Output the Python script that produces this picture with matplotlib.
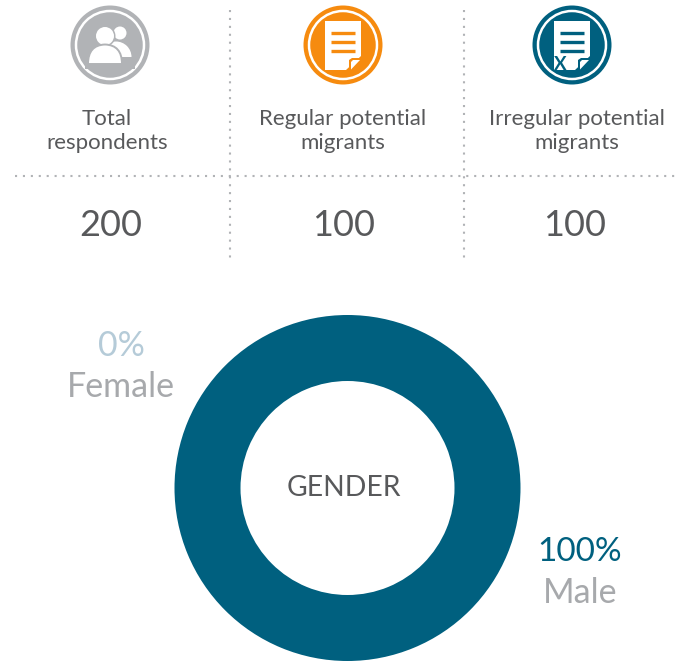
import matplotlib
matplotlib.use("Agg")
import matplotlib.pyplot as plt
from matplotlib.patches import Circle, Polygon, Wedge, Rectangle, PathPatch
from matplotlib.path import Path

plt.rcParams['font.family'] = ['Lato', 'DejaVu Sans']

# data
column_labels = ["Total\nrespondents", "Regular potential\nmigrants", "Irregular potential\nmigrants"]
column_counts = [200, 100, 100]
gender_labels = ["Male", "Female"]
gender_shares = [100, 0]

TEAL = '#00607f'
ORANGE = '#f68b0f'
GREY = '#b1b3b6'
TXT = '#58595b'

fig = plt.figure(figsize=(6.81, 6.62), dpi=100)
ax = fig.add_axes([0, 0, 1, 1])

# donut
ax.pie(gender_shares, colors=[TEAL, '#b5cbd8'], center=(347.5, 488), radius=173,
       startangle=90, counterclock=False, frame=True,
       wedgeprops=dict(width=66, linewidth=0))

ax.set_xlim(0, 681)
ax.set_ylim(662, 0)
ax.axis('off')

# dotted separators
dots = (0, (1.0, 2.8))
for x in (229.5, 463.5):
    ax.plot([x, x], [10, 258], ls=dots, lw=1.5, color=GREY, dash_capstyle='butt')
ax.plot([15, 678], [176, 176], ls=dots, lw=1.5, color=GREY, dash_capstyle='butt')

# column text
xc_label = [107, 343, 577]
xc_num = [110.5, 343.5, 575]
for x, lab in zip(xc_label, column_labels):
    ax.text(x, 131, lab, ha='center', va='center', fontsize=16, color=TXT, linespacing=1.2)
for x, v in zip(xc_num, column_counts):
    ax.text(x, 225, str(v), ha='center', va='center', fontsize=26, color=TXT)


def badge(cx, cy, color):
    ax.add_patch(Circle((cx, cy), 39.5, fc=color, ec='none'))
    ax.add_patch(Circle((cx, cy), 34, fc='none', ec='white', lw=1.8))


def document(cx, color):
    x0, x1, y0, y1 = cx - 18, cx + 18, 21, 70
    ax.add_patch(Polygon([(x0, y0), (x1, y0), (x1, y1 - 14), (x1 - 15, y1), (x0, y1)],
                         closed=True, fc='white', ec='none', zorder=3))
    for y in (33, 41.5, 50.5):
        ax.plot([x0 + 6, x1 - 6], [y, y], color=color, lw=2.4, solid_capstyle='butt', zorder=4)
    ax.add_patch(Polygon([(x1 - 12, y1 + 0.5), (x1 - 12, y1 - 10), (x1 - 9, y1 - 12),
                          (x1 + 1, y1 - 12), (x1 - 3, y1 - 1), (x1 - 10, y1 + 0.5)],
                         closed=True, fc=color, ec='none', zorder=4))
    ax.add_patch(Polygon([(x1 - 10, y1 - 0.5), (x1 - 10, y1 - 8), (x1 - 8, y1 - 10),
                          (x1 - 1, y1 - 10)],
                         closed=True, fc='white', ec='none', zorder=5))


# grey badge: people
badge(110, 45, GREY)
ax.add_patch(Circle((120, 33), 6.5, fc='white', ec='none'))
ax.add_patch(Wedge((116, 57), 15.5, 180, 360, fc='white', ec='none'))
ax.add_patch(Circle((105, 36), 10.5, fc=GREY, ec='none'))
ax.add_patch(Circle((105, 36), 9, fc='white', ec='none'))
ax.add_patch(PathPatch(Path([(88, 64), (88, 45), (105, 44.5), (122, 45), (122, 64), (88, 64)],
                            [Path.MOVETO, Path.CURVE3, Path.CURVE3, Path.CURVE3, Path.CURVE3, Path.CLOSEPOLY]),
                       fc='white', ec=GREY, lw=1.4))
ax.add_patch(Rectangle((85, 64), 50, 5, fc=GREY, ec='none'))

# orange badge
badge(343, 45, ORANGE)
document(343, ORANGE)

# teal badge
badge(572, 45, TEAL)
document(572, TEAL)
ax.text(560, 64, "X", ha='center', va='center', fontsize=13.5, color=TEAL,
        fontweight='bold', zorder=6)

# donut text
ax.text(344, 488, "GENDER", ha='center', va='center', fontsize=20.3, color=TXT)
ax.text(121, 346, f"{gender_shares[1]}%", ha='center', va='center', fontsize=24.5, color='#b5cbd8')
ax.text(121, 387, gender_labels[1], ha='center', va='center', fontsize=24.5, color='#a7a9ac')
ax.text(580, 552, f"{gender_shares[0]}%", ha='center', va='center', fontsize=24, color=TEAL)
ax.text(580, 593, gender_labels[0], ha='center', va='center', fontsize=24.5, color='#a7a9ac')

fig.savefig('out.png', dpi=100)
